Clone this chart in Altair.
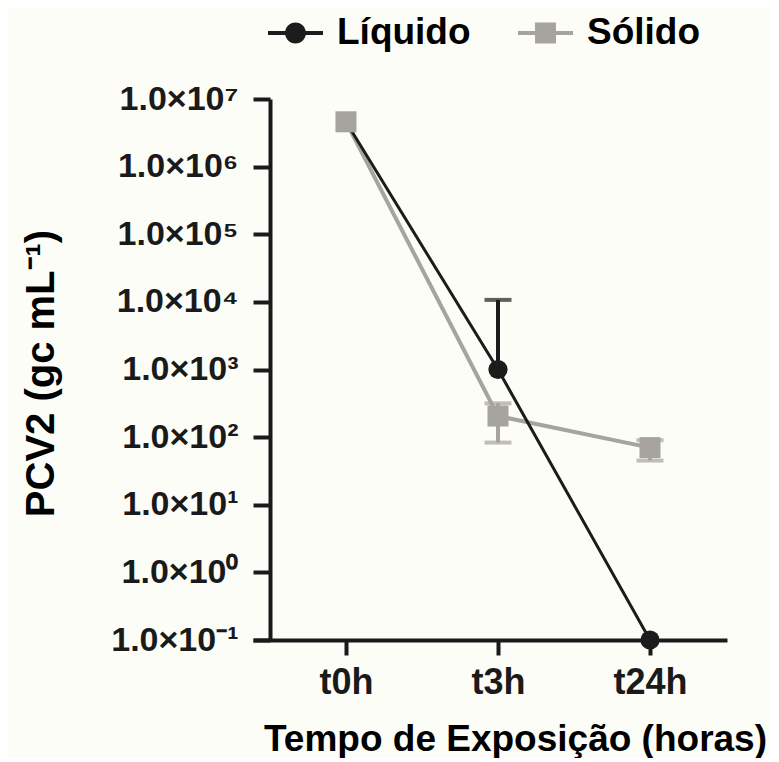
import altair as alt
import pandas as pd
import math

# ---------------- data ----------------
tempos = ["t0h", "t3h", "t24h"]
series = ["Líquido", "Sólido"]

liquido_media = [4.6e6, 1.0e3, 0.1]
liquido_sup = [None, 1.07e4, None]
liquido_inf = [None, None, None]

solido_media = [4.6e6, 2.05e2, 7.0e1]
solido_sup = [None, 3.16e2, 9.0e1]
solido_inf = [None, 8.3e1, 4.5e1]

y_ticks = [1e-1, 1e0, 1e1, 1e2, 1e3, 1e4, 1e5, 1e6, 1e7]
y_tick_labels = ["1.0×10⁻¹", "1.0×10⁰", "1.0×10¹", "1.0×10²", "1.0×10³",
                 "1.0×10⁴", "1.0×10⁵", "1.0×10⁶", "1.0×10⁷"]
colores = ["#1c1c1c", "#a7a39f"]

# ---------------- tables ----------------
rows, bars, caps = [], [], []
for s, med, sup, inf in [(series[0], liquido_media, liquido_sup, liquido_inf),
                         (series[1], solido_media, solido_sup, solido_inf)]:
    for t, m, hi, lo in zip(tempos, med, sup, inf):
        rows.append({"tempo": t, "serie": s, "valor": m})
        if hi is not None or lo is not None:
            bars.append({"tempo": t, "serie": s,
                         "lo": lo if lo is not None else m,
                         "hi": hi if hi is not None else m})
        for c in (hi, lo):
            if c is not None:
                caps.append({"tempo": t, "serie": s, "cap": c})

df = pd.DataFrame(rows)
df_bars = pd.DataFrame(bars)
df_caps = pd.DataFrame(caps)

FONT = "Liberation Sans"

label_expr = ""
for v, lab in zip(y_ticks, y_tick_labels):
    label_expr += f"abs(log(datum.value)/LN10 - ({round(math.log10(v))})) < 0.01 ? '{lab}' : "
label_expr += "''"

x_enc = alt.X(
    "tempo:N",
    sort=tempos,
    scale=alt.Scale(type="point", domain=tempos, padding=0.559, align=0.547),
    axis=alt.Axis(
        title="Tempo de Exposição (horas)",
        titleFont=FONT, titleFontSize=37, titleFontWeight="bold", titleColor="#000000",
        titleX=262, titleY=110, titleAnchor="middle", titleAlign="center",
        titleBaseline="alphabetic",
        labelFont=FONT, labelFontSize=36, labelFontWeight="bold", labelColor="#1a1a1a",
        labelAngle=0, labelBaseline="alphabetic", labelPadding=38,
        tickSize=15, tickWidth=4, tickColor="#1a1a1a",
        domainWidth=4, domainColor="#1a1a1a", grid=False,
    ),
)

y_scale = alt.Scale(type="log", domain=[1e-1, 1e7], nice=False)
y_axis = alt.Axis(
    title="PCV2 (gc mL⁻¹)",
    titleFont=FONT, titleFontSize=40, titleFontWeight="bold", titleColor="#000000",
    titleX=-217, titleY=274, titleAngle=270, titleAlign="center",
    titleBaseline="alphabetic",
    values=y_ticks, labelExpr=label_expr,
    labelFont=FONT, labelFontSize=34, labelFontWeight="bold", labelColor="#1a1a1a",
    labelPadding=15, labelBaseline="middle",
    tickSize=17, tickWidth=4, tickColor="#1a1a1a",
    domainWidth=4, domainColor="#1a1a1a", grid=False, offset=-17,
)

y_val = alt.Y("valor:Q", scale=y_scale, axis=y_axis)

# legend symbols: a line with the series' marker on it
path_liq = ("M-1,-0.075H1V0.075H-1Z "
            "M0.38,0A0.38,0.38 0 1,1 -0.38,0A0.38,0.38 0 1,1 0.38,0Z")
path_sol = ("M-1,-0.075H1V0.075H-1Z "
            "M-0.38,-0.38H0.38V0.38H-0.38Z")


def legend_for(path, x):
    return alt.Legend(
        title=None, orient="none", legendX=x, legendY=-93.5, direction="horizontal",
        labelFont=FONT, labelFontSize=37, labelFontWeight="bold", labelColor="#000000",
        labelOffset=14, symbolSize=3025, padding=0, symbolType=path,
        symbolStrokeWidth=0, labelLimit=400,
    )


base = alt.Chart(df)


def only(data_chart, s):
    return data_chart.transform_filter(alt.datum.serie == s)


layers = []
# lines
layers.append(only(base, series[1]).mark_line(strokeWidth=4, color=colores[1]).encode(x=x_enc, y=y_val))
layers.append(only(base, series[0]).mark_line(strokeWidth=3, color=colores[0]).encode(x=x_enc, y=y_val))
# error bars
for s, col in zip(series, colores):
    layers.append(only(alt.Chart(df_bars), s).mark_rule(strokeWidth=4, color=col).encode(
        x=x_enc, y=alt.Y("lo:Q", scale=y_scale, axis=y_axis), y2="hi:Q"))
    layers.append(only(alt.Chart(df_caps), s).mark_tick(thickness=4, size=27, color=col).encode(
        x=x_enc, y=alt.Y("cap:Q", scale=y_scale, axis=y_axis)))
# points (each series with its own colour scale and legend)
layers.append(only(base, series[0]).mark_point(
    filled=True, opacity=1, size=370, shape="circle").encode(
    x=x_enc, y=y_val,
    color=alt.Color("serie:N", scale=alt.Scale(domain=[series[0]], range=[colores[0]]),
                    legend=legend_for(path_liq, 15))))
layers.append(only(base, series[1]).mark_point(
    filled=True, opacity=1, size=441, shape="square").encode(
    x=x_enc, y=y_val,
    color=alt.Color("serie:N", scale=alt.Scale(domain=[series[1]], range=[colores[1]]),
                    legend=legend_for(path_sol, 265))))

chart = alt.layer(*layers).resolve_scale(color="independent").resolve_legend(
    color="independent").properties(
    width=474, height=541,
    padding={"left": 245, "top": 91, "right": 43, "bottom": 118},
    autosize=alt.AutoSizeParams(type="none"),
    background="#fdfdf8",
).configure_view(stroke=None)

chart.save("out.html", embed_options={"renderer": "svg", "actions": False})
